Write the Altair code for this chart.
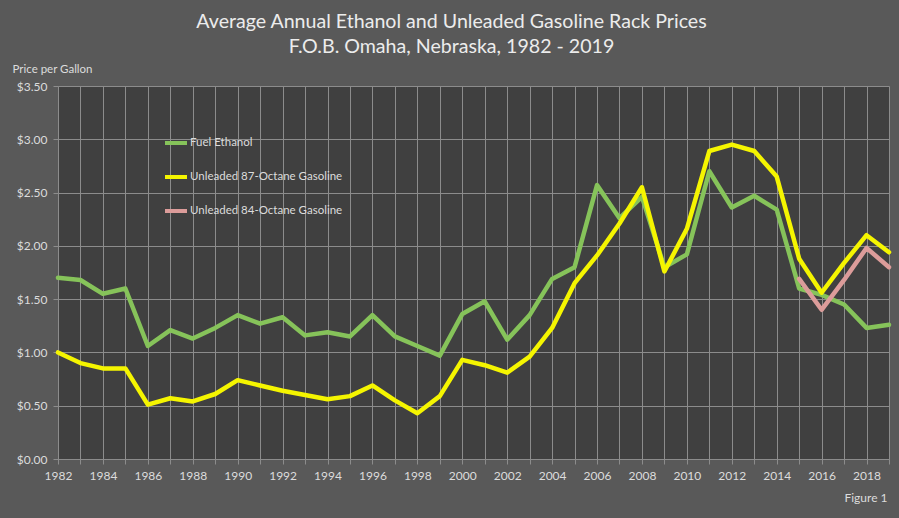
import altair as alt
import pandas as pd

years = list(range(1982, 2020))
ethanol = [1.70, 1.68, 1.55, 1.60, 1.06, 1.21, 1.13, 1.23, 1.35, 1.27, 1.33, 1.16, 1.19, 1.15, 1.35, 1.15, 1.06, 0.97,
           1.36, 1.48, 1.12, 1.35, 1.69, 1.80, 2.57, 2.26, 2.46, 1.80, 1.92, 2.70, 2.36, 2.47, 2.34, 1.60, 1.54, 1.45, 1.23, 1.26]
unleaded87 = [1.00, 0.90, 0.85, 0.85, 0.51, 0.57, 0.54, 0.61, 0.74, 0.69, 0.64, 0.60, 0.56, 0.59, 0.69, 0.55, 0.43, 0.59,
              0.93, 0.88, 0.81, 0.96, 1.23, 1.65, 1.91, 2.21, 2.55, 1.76, 2.16, 2.89, 2.95, 2.89, 2.65, 1.88, 1.56, 1.84, 2.10, 1.94]
years84 = [2015, 2016, 2017, 2018, 2019]
unleaded84 = [1.69, 1.40, 1.68, 1.98, 1.80]

series_names = ["Fuel Ethanol", "Unleaded 87-Octane Gasoline", "Unleaded 84-Octane Gasoline"]
series_colors = ["#86c35a", "#f5f500", "#dc9c9a"]

rows = []
for y, v in zip(years, ethanol):
    rows.append({"year": y, "price": v, "series": series_names[0], "order": 0})
for y, v in zip(years, unleaded87):
    rows.append({"year": y, "price": v, "series": series_names[1], "order": 1})
for y, v in zip(years84, unleaded84):
    rows.append({"year": y, "price": v, "series": series_names[2], "order": 2})
df = pd.DataFrame(rows)

FONT = "Lato"
TEXT = "#dcdcdc"
GRID = "#8c8c8c"

chart = alt.Chart(df).mark_line(strokeWidth=4.5, strokeJoin="round", strokeCap="round").encode(
    x=alt.X("year:Q",
            scale=alt.Scale(domain=[1982, 2019], nice=False, zero=False),
            axis=alt.Axis(values=years, format="d",
                          labelExpr="datum.value % 2 == 0 ? datum.label : ''",
                          labelFlush=False,
                          title="Figure 1", titleX=829, titleY=38, titleAlign="right",
                          titleBaseline="middle", titleFontWeight="normal", titleFontSize=12,
                          titleColor=TEXT, titleFont=FONT,
                          labelFontSize=12, labelColor=TEXT, labelFont=FONT, labelPadding=6,
                          tickSize=5, tickColor=GRID, domainColor=GRID, gridColor=GRID,
                          gridWidth=1, labelOverlap=False)),
    y=alt.Y("price:Q",
            scale=alt.Scale(domain=[0, 3.5], nice=False),
            axis=alt.Axis(values=[0, 0.5, 1, 1.5, 2, 2.5, 3, 3.5], format="$.2f",
                          title="Price per Gallon", titleAngle=0, titleX=-46, titleY=-17,
                          titleAlign="left", titleBaseline="middle", titleFontWeight="normal",
                          titleFontSize=11.5, titleColor=TEXT, titleFont=FONT,
                          labelFontSize=12, labelColor=TEXT, labelFont=FONT, labelPadding=6,
                          tickSize=5, tickColor=GRID, domainColor=GRID, gridColor=GRID,
                          gridWidth=1)),
    color=alt.Color("series:N",
                    scale=alt.Scale(domain=series_names, range=series_colors),
                    legend=alt.Legend(title=None, orient="none", legendX=105, legendY=44,
                                      symbolType="stroke", symbolSize=484, symbolStrokeWidth=4,
                                      labelFontSize=11.5, labelColor=TEXT, labelFont=FONT,
                                      labelOffset=1, rowPadding=13)),
    order=alt.Order("order:Q"),
    detail="series:N",
).properties(
    width=831,
    height=373,
    title=alt.TitleParams(
        text=["Average Annual Ethanol and Unleaded Gasoline Rack Prices",
              "F.O.B. Omaha, Nebraska, 1982 - 2019"],
        anchor="middle", fontSize=19.6, font=FONT, color="#ececec", fontWeight="normal",
        dx=-22, offset=5, lineHeight=25,
    ),
    background="#595959",
    padding={"left": 58, "top": 86, "right": 10, "bottom": 59},
    autosize=alt.AutoSizeParams(type="none"),
).configure_view(
    fill="#404040", stroke=None
)

chart.save("out.html", embed_options={"renderer": "svg", "actions": False})
